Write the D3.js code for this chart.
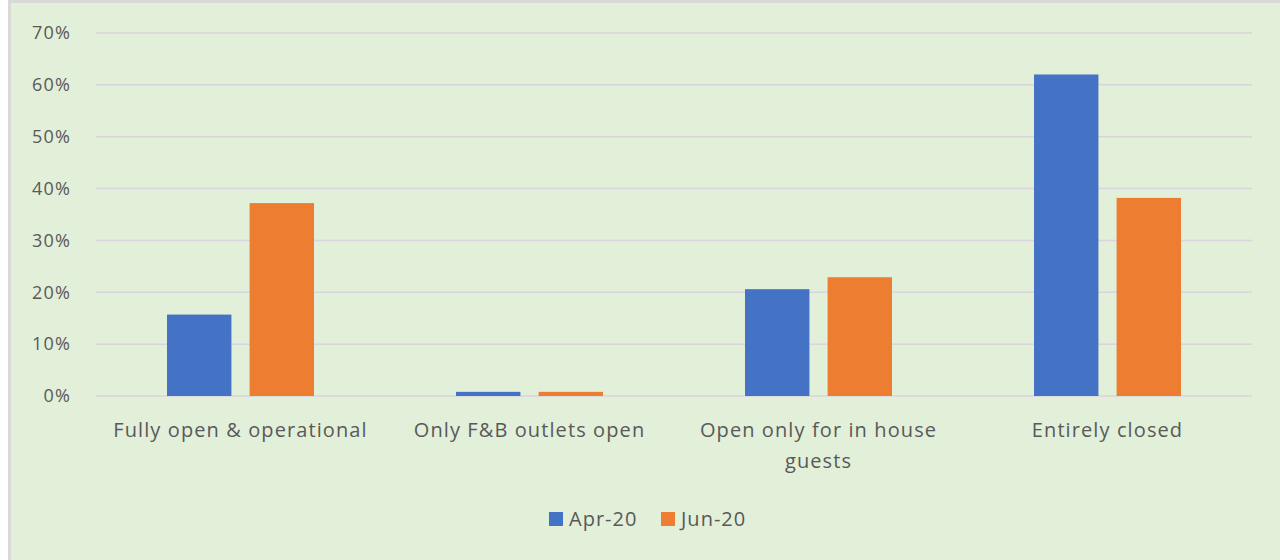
<!DOCTYPE html>
<html><head><meta charset="utf-8">
<script src="https://cdn.jsdelivr.net/npm/d3@7/dist/d3.min.js"></script>
<style>body{margin:0;background:#fff;}svg{display:block;}</style>
</head><body><svg id="c" width="1280" height="560"></svg>
<script>
const categories = ["Fully open & operational", "Only F&B outlets open", "Open only for in house guests", "Entirely closed"];
const categoryLines = [["Fully open & operational"], ["Only F&B outlets open"], ["Open only for in house", "guests"], ["Entirely closed"]];
const seriesNames = ["Apr-20", "Jun-20"];
const apr20 = [0.157, 0.008, 0.206, 0.620];
const jun20 = [0.372, 0.008, 0.229, 0.382];
const yTicks = [0, 0.1, 0.2, 0.3, 0.4, 0.5, 0.6, 0.7];
const colors = ["#4472c4", "#ed7d31"];

(function () {
const svg = d3.select("#c");
svg.append("rect").attr("x", 8).attr("y", 0).attr("width", 1272).attr("height", 560).attr("fill", "#d9d9d9");
svg.append("rect").attr("x", 11).attr("y", 3).attr("width", 1269).attr("height", 557).attr("fill", "#e2efd9");

const pl = 96, pr = 1252, pt = 33, pb = 396;
const groupW = 147;
const y = d3.scaleLinear().domain([0, 0.7]).range([pb, pt]);
const x0 = d3.scaleBand().domain(categories).range([pl, pr]);
const x1 = d3.scaleBand().domain(seriesNames).range([0, groupW]).paddingInner(0.22);

const font = "'Open Sans', 'Liberation Sans', sans-serif";
const g = svg.append("g");
g.selectAll("line.grid").data(yTicks).enter().append("line")
  .attr("x1", pl).attr("x2", pr)
  .attr("y1", d => y(d)).attr("y2", d => y(d))
  .attr("stroke", "#d9d4de").attr("stroke-width", 1.5);
g.selectAll("text.yl").data(yTicks).enter().append("text")
  .attr("x", 71).attr("y", d => y(d)).attr("dy", "0.35em")
  .attr("text-anchor", "end").attr("font-family", font).attr("font-size", 18)
  .attr("letter-spacing", 1.2)
  .attr("fill", "#595959").text(d3.format(".0%"));

const series = [apr20, jun20];
series.forEach((vals, si) => {
  g.selectAll("rect.s" + si).data(vals).enter().append("rect")
    .attr("x", (d, i) => x0(categories[i]) + (x0.bandwidth() - groupW) / 2 + x1(seriesNames[si]))
    .attr("width", x1.bandwidth())
    .attr("y", d => y(d)).attr("height", d => pb - y(d))
    .attr("fill", colors[si]);
});

categoryLines.forEach((lines, i) => {
  const t = g.append("text").attr("text-anchor", "middle").attr("font-family", font)
    .attr("font-size", 20).attr("letter-spacing", 1.1).attr("fill", "#595959");
  lines.forEach((l, j) => {
    t.append("tspan").attr("x", x0(categories[i]) + x0.bandwidth() / 2)
      .attr("y", 437 + j * 31).text(l);
  });
});

const legX = [549, 661];
seriesNames.forEach((s, i) => {
  svg.append("rect").attr("x", legX[i]).attr("y", 512).attr("width", 14).attr("height", 14).attr("fill", colors[i]);
  svg.append("text").attr("x", legX[i] + 20).attr("y", 526).attr("font-family", font)
    .attr("font-size", 20).attr("letter-spacing", 1).attr("fill", "#595959").text(s);
});
})();
</script></body></html>
